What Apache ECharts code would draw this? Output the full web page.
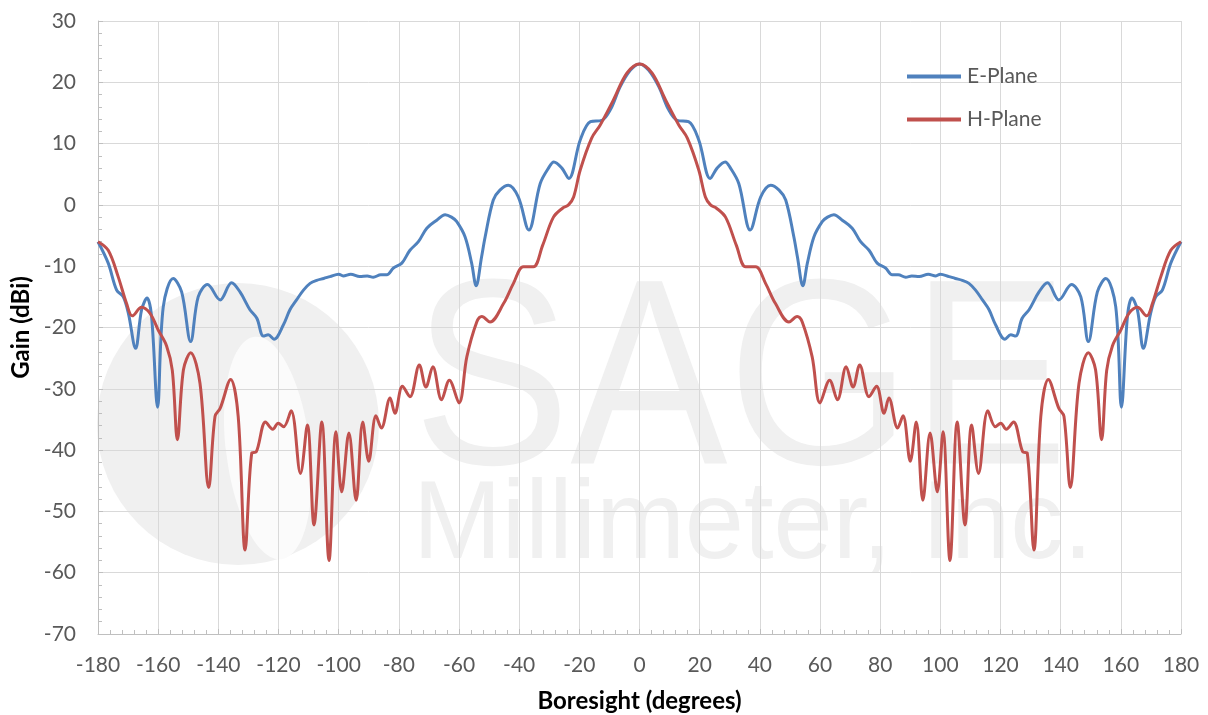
<!DOCTYPE html>
<html>
<head>
<meta charset="utf-8">
<script src="https://cdn.jsdelivr.net/npm/echarts@6/dist/echarts.min.js"></script>
<style>
html,body{margin:0;padding:0;background:#fff;}
#chart{width:1208px;height:715px;}
</style>
</head>
<body>
<div id="chart"></div>
<script>
// ---- Data ----
const seriesNames = ['E-Plane', 'H-Plane'];

const eAngle = [-180,-176.6,-173.8,-171.6,-169.9,-167.5,-165.5,-163.7,-162.2,-160.2,-158.3,-155.0,-152.2,-149.2,-146.7,-143.6,-139.4,-135.6,-132.8,-129.5,-127.2,-125,-123.4,-121.5,-118.4,-116.2,-114,-111.7,-109.5,-107.3,-105,-102.9,-100,-98.5,-96,-93,-90.5,-88.5,-86,-84.0,-81.8,-79.0,-76.3,-73.5,-70.7,-67.4,-64.6,-62.5,-60.8,-58.0,-55.8,-54.3,-52.5,-51.3,-48.6,-46.4,-43.6,-40.3,-36.8,-33.0,-30,-28.5,-25.8,-23.5,-19.7,-16.3,-12.5,-9.7,-6.4,-3.0,
  0,3.0,6.4,9.7,12.5,16.3,19.7,23.5,25.8,28.5,30,33.0,36.8,40.3,43.6,46.4,48.6,51.3,52.5,54.3,55.8,58.0,60.8,62.5,64.6,67.4,70.7,73.5,76.3,79.0,81.8,84.0,86,88.5,90.5,93,96,98.5,100,102.9,105,107.3,109.5,111.7,114,116.2,118.4,121.5,123.4,125,127.2,129.5,132.8,135.6,139.4,143.6,146.7,149.2,152.2,155.0,158.3,160.2,162.2,163.7,165.5,167.5,169.9,171.6,173.8,176.6,180];
const eGain = [-6.0,-9.5,-13.9,-15.0,-17.7,-23.4,-17.1,-15.2,-18.2,-33.0,-16.6,-12.0,-14.2,-22.3,-15.0,-13.0,-15.5,-12.7,-14.2,-17.1,-18.5,-21.4,-21.2,-21.9,-19.6,-17.1,-15.5,-13.9,-12.8,-12.3,-12.0,-11.7,-11.3,-11.6,-11.3,-11.7,-11.6,-11.8,-11.4,-11.4,-10.3,-9.5,-7.4,-6.0,-3.8,-2.5,-1.6,-2.0,-2.7,-5.2,-9.5,-13.2,-8.5,-5.2,0.8,2.4,3.2,1.3,-4.1,3.5,6.2,7.0,6.0,4.3,10.6,13.6,13.8,15.5,19.3,22.0,
  23.0,22.0,19.3,15.5,13.8,13.6,10.6,4.3,6.0,7.0,6.2,3.5,-4.1,1.3,3.2,2.4,0.8,-5.2,-8.5,-13.2,-9.5,-5.2,-2.7,-2.0,-1.6,-2.5,-3.8,-6.0,-7.4,-9.5,-10.3,-11.4,-11.4,-11.8,-11.6,-11.7,-11.3,-11.6,-11.3,-11.7,-12.0,-12.3,-12.8,-13.9,-15.5,-17.1,-19.6,-21.9,-21.2,-21.4,-18.5,-17.1,-14.2,-12.7,-15.5,-13.0,-15.0,-22.3,-14.2,-12.0,-16.6,-33.0,-18.2,-15.2,-17.1,-23.4,-17.7,-15.0,-13.9,-9.5,-6.0];

const hAngle = [-180,-176.6,-173.3,-170.5,-168.6,-165.5,-162.7,-160.0,-157.2,-155.3,-153.6,-151.6,-149.2,-146.1,-143.2,-141.1,-139.4,-135.9,-133.4,-131.1,-128.9,-127.4,-124.3,-121.9,-120.1,-118.3,-115.8,-112.7,-110.4,-108.2,-105.6,-103.2,-100.9,-99.0,-96.6,-94.2,-92.0,-90.0,-87.6,-85.8,-82.9,-81.3,-78.8,-76.3,-73.2,-71.0,-68.7,-65.8,-63.2,-60.0,-57.4,-54.1,-52.4,-49.7,-45.2,-41.9,-38.6,-35.3,-32.2,-28.6,-25.5,-23.6,-21.9,-19.7,-15.9,-13.1,-8.7,-4.2,
  0,4.2,8.7,13.1,15.9,19.7,21.9,23.6,25.5,28.6,32.2,35.3,38.6,41.9,45.2,49.7,52.4,54.1,57.4,60.0,63.2,65.8,68.7,71.0,73.2,76.3,78.8,81.3,82.9,85.8,87.6,90.0,92.0,94.2,96.6,99.0,100.9,103.2,105.6,108.2,110.4,112.7,115.8,118.3,120.1,121.9,124.3,127.4,128.9,131.1,133.4,135.9,139.4,141.1,143.2,146.1,149.2,151.6,153.6,155.3,157.2,160.0,162.7,165.5,168.6,170.5,173.3,176.6,180];
const hGain = [-6.0,-7.4,-11.7,-16.1,-18.1,-16.7,-17.7,-20.4,-23.0,-27.0,-38.3,-26.9,-24.1,-29.1,-46.1,-34.5,-33.2,-28.5,-34.5,-56.3,-40.5,-40.3,-35.4,-36.6,-35.6,-36.2,-33.6,-43.8,-35.9,-52.2,-35.4,-58.0,-37.0,-46.8,-37.2,-48.2,-35.4,-41.8,-34.4,-36.4,-31.5,-34.0,-29.6,-31.3,-26.1,-29.7,-26.4,-31.8,-28.6,-32.3,-24.8,-19.1,-18.2,-19.1,-16.1,-12.8,-10.1,-10.1,-6.6,-2.0,-0.5,0.0,1.3,5.7,10.9,13.0,17.1,21.5,
  23.0,21.5,17.1,13.0,10.9,5.7,1.3,0.0,-0.5,-2.0,-6.6,-10.1,-10.1,-12.8,-16.1,-19.1,-18.2,-19.1,-24.8,-32.3,-28.6,-31.8,-26.4,-29.7,-26.1,-31.3,-29.6,-34.0,-31.5,-36.4,-34.4,-41.8,-35.4,-48.2,-37.2,-46.8,-37.0,-58.0,-35.4,-52.2,-35.9,-43.8,-33.6,-36.2,-35.6,-36.6,-35.4,-40.3,-40.5,-56.3,-34.5,-28.5,-33.2,-34.5,-46.1,-29.1,-24.1,-26.9,-38.3,-27.0,-23.0,-20.4,-17.7,-16.7,-18.1,-16.1,-11.7,-7.4,-6.0];

const xMin = -180, xMax = 180, xStep = 20;
const yMin = -70, yMax = 30, yStep = 10;
const xTitle = 'Boresight (degrees)';
const yTitle = 'Gain (dBi)';

// ---- Chart ----
const zip = (a, b) => a.map((v, i) => [v, b[i]]);
const chart = echarts.init(document.getElementById('chart'), null, {renderer: 'canvas'});
const labelFont = 'Lato, "Liberation Sans", sans-serif';
const wm = '#f0f0f0';

chart.setOption({
  backgroundColor: '#ffffff',
  animation: false,
  graphic: [
    {type: 'circle', z: -10, silent: true, shape: {cx: 238, cy: 424, r: 141}, style: {fill: wm}},
    {type: 'ellipse', z: -9, silent: true, shape: {cx: 268, cy: 448, rx: 42, ry: 112}, rotation: 0.12, originX: 268, originY: 448, style: {fill: '#fbfbfb'}},
    {type: 'text', z: -8, silent: true, x: 413, y: 258, scaleX: 0.89, style: {text: 'SAGE', font: '265px "Liberation Sans", Arial, sans-serif', fill: wm}},
    {type: 'text', z: -8, silent: true, x: 413, y: 471, scaleX: 0.95, style: {text: 'Millimeter, Inc.', font: '112px "Liberation Sans", Arial, sans-serif', fill: wm}}
  ],
  grid: {left: 98, right: 27, top: 21, bottom: 81, containLabel: false, outerBoundsMode: 'none'},
  legend: {
    orient: 'vertical', left: 902, top: 61, itemWidth: 54, itemHeight: 4, itemGap: 22,
    icon: 'rect',
    textStyle: {fontFamily: labelFont, fontSize: 21, color: '#595959', padding: [0, 0, 0, 1]},
    data: seriesNames
  },
  xAxis: {
    type: 'value', min: xMin, max: xMax, interval: xStep,
    name: xTitle, nameLocation: 'middle', nameGap: 55,
    nameTextStyle: {fontFamily: labelFont, fontWeight: 'bold', fontSize: 24, color: '#000'},
    axisLine: {show: true, onZero: false, lineStyle: {color: '#bfbfbf', width: 1}},
    axisTick: {show: true, inside: true, length: 5, lineStyle: {color: '#bfbfbf'}},
    minorTick: {show: true, splitNumber: 5, length: 4, lineStyle: {color: '#bfbfbf'}},
    axisLabel: {fontFamily: labelFont, fontSize: 21, color: '#595959', margin: 21},
    splitLine: {show: true, lineStyle: {color: '#d9d9d9', width: 1}}
  },
  yAxis: {
    type: 'value', min: yMin, max: yMax, interval: yStep,
    name: yTitle, nameLocation: 'middle', nameGap: 65, nameRotate: 90,
    nameTextStyle: {fontFamily: labelFont, fontWeight: 'bold', fontSize: 24, color: '#000'},
    axisLine: {show: true, onZero: false, lineStyle: {color: '#bfbfbf', width: 1}},
    axisTick: {show: true, inside: true, length: 5, lineStyle: {color: '#bfbfbf'}},
    minorTick: {show: true, splitNumber: 5, length: 4, lineStyle: {color: '#bfbfbf'}},
    axisLabel: {fontFamily: labelFont, fontSize: 21, color: '#595959', margin: 22},
    splitLine: {show: true, lineStyle: {color: '#d9d9d9', width: 1}}
  },
  series: [
    {name: seriesNames[0], type: 'line', data: zip(eAngle, eGain), symbol: 'none', smooth: 0.35,
     lineStyle: {color: '#4F81BD', width: 3}, itemStyle: {color: '#4F81BD'}, z: 3},
    {name: seriesNames[1], type: 'line', data: zip(hAngle, hGain), symbol: 'none', smooth: 0.35,
     lineStyle: {color: '#C0504D', width: 3}, itemStyle: {color: '#C0504D'}, z: 4}
  ]
});
</script>
</body>
</html>
